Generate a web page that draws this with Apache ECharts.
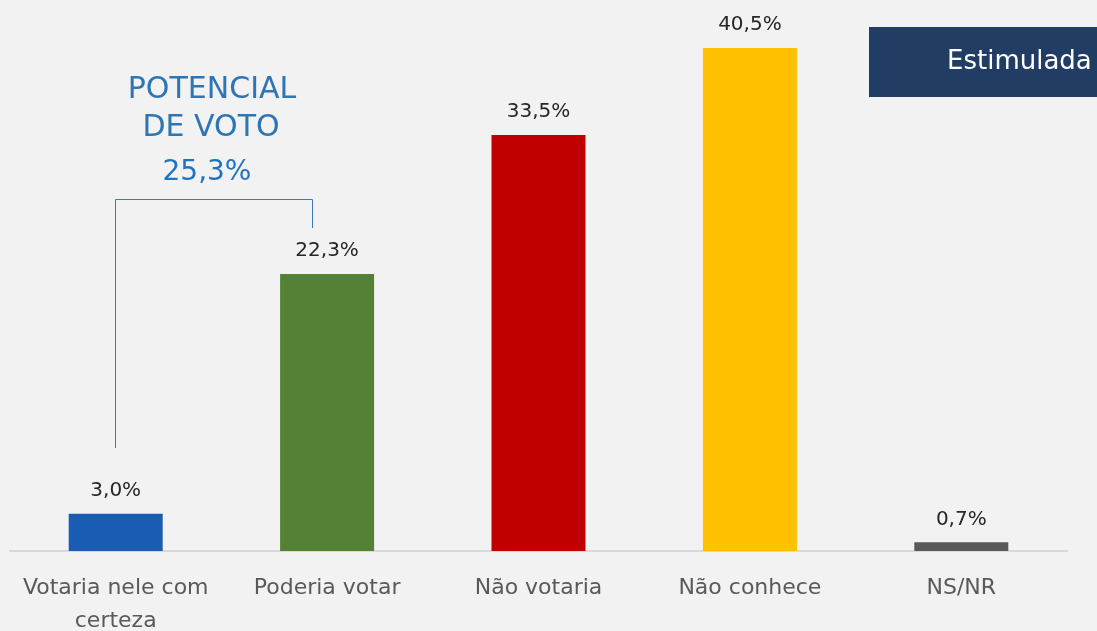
<!DOCTYPE html>
<html lang="pt">
<head>
    <meta charset="UTF-8">
    <title>Estimulada</title>
    <script src="https://cdn.jsdelivr.net/npm/echarts@6/dist/echarts.min.js"></script>
    <style>
        html, body { margin: 0; padding: 0; background: #f2f2f2; }
    </style>
</head>
<body>
<div id="main" style="width:1097px;height:631px;"></div>
<script>
    // dados
    var categorias = ['Votaria nele com\ncerteza', 'Poderia votar', 'Não votaria', 'Não conhece', 'NS/NR'];
    var valores = [3.0, 22.3, 33.5, 40.5, 0.7];
    var cores = ['#1a5bb4', '#538135', '#c00000', '#ffc000', '#595959'];
    var potencial = 25.3;

    var fonte = '"DejaVu Sans", sans-serif';
    function pct(v) { return v.toFixed(1).replace('.', ',') + '%'; }

    var myChart = echarts.init(document.getElementById('main'));
    myChart.setOption({
        backgroundColor: '#f2f2f2',
        animation: false,
        grid: {left: 10, right: 30, top: 48, bottom: 80, outerBoundsMode: 'none'},
        xAxis: {
            type: 'category',
            data: categorias,
            axisLine: {lineStyle: {color: '#d9d9d9', width: 2}},
            axisTick: {show: false},
            axisLabel: {
                color: '#595959', fontSize: 22, fontFamily: fonte,
                lineHeight: 33, margin: 21, interval: 0
            }
        },
        yAxis: {
            type: 'value', min: 0, max: 40.5, show: false,
            splitLine: {show: false}
        },
        series: [{
            type: 'bar',
            barWidth: 94,
            data: valores.map(function (v, i) {
                return {value: v, itemStyle: {color: cores[i]}};
            }),
            label: {
                show: true, position: 'top', distance: 13,
                color: '#262626', fontSize: 20, fontFamily: fonte,
                formatter: function (p) { return pct(p.value); }
            }
        }],
        graphic: [
            // caixa "Estimulada"
            {type: 'rect', shape: {x: 869, y: 27, width: 228, height: 70},
                style: {fill: '#213d64'}},
            {type: 'text', x: 947, y: 62,
                style: {text: 'Estimulada', fill: '#ffffff', font: '26px ' + fonte, verticalAlign: 'middle'}},
            // anotação potencial de voto
            {type: 'text', x: 212, y: 90,
                style: {text: 'POTENCIAL', fill: '#2e75b6', font: '30px ' + fonte, align: 'center', verticalAlign: 'middle'}},
            {type: 'text', x: 211, y: 128,
                style: {text: 'DE VOTO', fill: '#2e75b6', font: '30px ' + fonte, align: 'center', verticalAlign: 'middle'}},
            {type: 'text', x: 207, y: 173,
                style: {text: pct(potencial), fill: '#1f73c4', font: '28px ' + fonte, align: 'center', verticalAlign: 'middle'}},
            {type: 'polyline', shape: {points: [[115.5, 448], [115.5, 199.5], [312.5, 199.5], [312.5, 228]]},
                style: {stroke: '#4472c4', lineWidth: 1, fill: null}}
        ]
    });
</script>
</body>
</html>
